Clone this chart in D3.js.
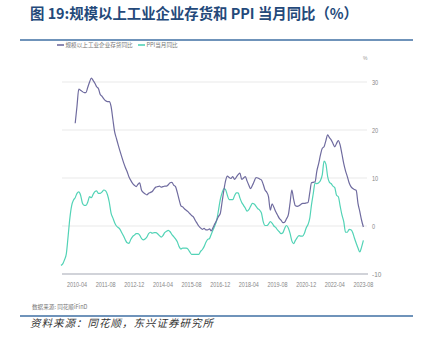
<!DOCTYPE html>
<html><head><meta charset="utf-8">
<script src="https://cdn.jsdelivr.net/npm/d3@7"></script>
<style>
html,body{margin:0;padding:0;background:#fff;}
svg{display:block;}
</style></head>
<body>
<script>
// ---- data ----
const ppiStart = "2009-07";
const ppiValues = [
 -8.2,-7.9,-7.0,-5.8,-2.1,1.7,
 4.3,5.4,5.9,6.8,7.1,6.4,4.8,4.3,4.3,5.0,6.1,5.9,
 6.6,7.2,7.3,6.8,6.8,7.1,7.5,7.3,6.5,5.0,2.7,1.7,
 0.7,0.0,-0.3,-0.7,-1.4,-2.1,-2.9,-3.5,-3.6,-2.8,-2.2,-1.9,
 -1.6,-1.6,-1.9,-2.6,-2.9,-2.7,-2.3,-1.6,-1.3,-1.5,-1.4,-1.4,
 -1.6,-2.0,-2.3,-2.0,-1.4,-1.1,-0.9,-1.2,-1.8,-2.2,-2.7,-3.3,
 -4.3,-4.8,-4.6,-4.6,-4.6,-4.8,-5.4,-5.9,-5.9,-5.9,-5.9,-5.9,
 -5.3,-4.9,-4.3,-3.4,-2.8,-2.6,-1.7,-0.8,0.1,1.2,3.3,5.5,
 6.9,7.8,7.6,6.4,5.5,5.5,5.5,6.3,6.9,6.9,5.8,4.9,
 4.3,3.7,3.1,3.4,4.1,4.7,4.6,4.1,3.6,3.3,2.7,0.9,
 0.1,0.1,0.4,0.9,0.6,0.0,-0.3,-0.8,-1.2,-1.6,-1.4,-0.5,
 0.1,-0.4,-1.5,-3.1,-3.7,-3.0,-2.4,-2.0,-2.1,-2.1,-1.5,-0.4,
 0.3,1.7,4.4,6.8,9.0,8.8,9.0,9.5,10.7,13.5,12.9,10.3,
 9.1,8.8,8.3,8.0,6.4,6.1,4.2,2.3,0.9,-1.3,-1.3,-0.7,
 -0.8,-1.4,-2.5,-3.6,-4.6,-5.4,-4.4,-3.0
];
const invStart = "2010-03";
const invValues = [
 21.4,25.0,28.5,28.3,28.0,27.8,27.8,28.9,30.0,30.8,
 30.3,29.7,29.0,28.6,27.4,27.0,26.5,26.1,25.9,25.9,24.9,22.3,
 19.6,18.2,16.9,15.6,14.4,13.2,12.2,11.3,10.2,9.5,8.9,8.5,
 8.2,8.7,9.0,7.5,7.0,6.7,6.5,6.8,7.0,7.2,7.7,8.1,
 8.2,8.3,8.1,8.2,8.3,8.3,8.6,9.0,9.1,8.5,8.2,7.0,
 5.5,4.2,4.0,3.6,3.3,3.0,2.6,2.2,1.9,1.2,0.6,0.0,
 -0.4,-0.7,-0.5,-0.8,-0.8,-0.6,-1.0,-0.3,0.5,1.2,2.0,2.6,
 5.0,7.5,9.4,10.4,10.1,9.9,10.3,9.7,10.2,10.7,11.0,9.7,
 10.0,10.3,9.4,8.5,7.8,8.5,9.3,10.1,10.0,9.8,9.6,8.7,
 7.5,7.0,6.1,3.3,4.6,3.9,3.0,2.3,1.6,1.2,0.7,0.8,
 1.5,2.3,4.7,7.5,5.6,4.2,4.1,4.2,4.5,4.7,4.7,4.8,
 4.9,7.0,9.0,9.1,9.2,11.5,13.0,14.8,16.2,16.5,17.8,19.0,
 18.4,17.9,17.2,16.5,17.2,17.8,16.9,15.0,13.0,11.5,10.3,9.0,
 8.2,7.8,7.6,7.4,4.7,3.0,1.2,-0.2
];
const seriesNames = ["规模以上工业企业存货同比","PPI当月同比"];
const xTickLabels = ["2010-04","2011-08","2012-12","2014-04","2015-08","2016-12","2018-04","2019-08","2020-12","2022-04","2023-08"];
const yTicks = [-10,0,10,20,30];
const titleText = "图 19:规模以上工业企业存货和 PPI 当月同比（%）";
const sourceNote = "数据来源: 同花顺iFinD";
const footerText = "资料来源：同花顺，东兴证券研究所";

// ---- helpers ----
const parse = d3.timeParse("%Y-%m");
function series(start, vals){
  const s = parse(start);
  return vals.map((v,i)=>({date:d3.timeMonth.offset(s,i), v}));
}
const ppi = series(ppiStart, ppiValues);
const inv = series(invStart, invValues);

const W=429,H=339;
const svg = d3.select("body").append("svg").attr("width",W).attr("height",H);
const CJK = "'Noto Sans CJK SC','Noto Sans',sans-serif";
const SANS = "'Liberation Sans','Noto Sans',sans-serif";

const x = d3.scaleTime().domain([parse("2009-07"), parse("2023-08")]).range([60.9, 363.4]);
const y = d3.scaleLinear().domain([-10,30]).range([274,82]);

// title
svg.append("text").attr("x",30).attr("y",19).text(titleText)
  .attr("font-family",CJK).attr("font-weight","bold").attr("font-size",14.5)
  .attr("textLength",328).attr("lengthAdjust","spacingAndGlyphs").attr("fill","#24497a");
// rules
svg.append("line").attr("x1",20).attr("x2",413).attr("y1",40).attr("y2",40).attr("stroke","#3f6fa3").attr("stroke-width",1.5);
svg.append("line").attr("x1",20).attr("x2",413).attr("y1",316).attr("y2",316).attr("stroke","#3f6fa3").attr("stroke-width",1.5);

// legend
const colors = ["#6f6b9f","#52d3b6"];
const legX = [57,138];
seriesNames.forEach((n,i)=>{
  svg.append("line").attr("x1",legX[i]).attr("x2",legX[i]+7).attr("y1",45).attr("y2",45).attr("stroke",colors[i]).attr("stroke-width",1.6);
  svg.append("text").attr("x",legX[i]+8.5).attr("y",47).text(n)
    .attr("font-family",CJK).attr("font-size",5.6).attr("fill","#777");
});

// grid
svg.append("g").selectAll("line").data(yTicks.filter(d=>d>-10)).join("line")
  .attr("x1",62).attr("x2",367).attr("y1",d=>y(d)).attr("y2",d=>y(d))
  .attr("stroke","#e9e9e9").attr("stroke-width",1);
svg.append("line").attr("x1",62).attr("x2",368).attr("y1",y(-10)).attr("y2",y(-10)).attr("stroke","#a3a7b3").attr("stroke-width",1);

// y axis labels (right)
svg.append("g").selectAll("text").data(yTicks).join("text")
  .attr("x",372).attr("y",d=>y(d)+2.5).text(d=>d)
  .attr("font-family",SANS).attr("font-size",7)
  .attr("textLength",d=>String(d).length*3.1).attr("lengthAdjust","spacingAndGlyphs")
  .attr("fill","#888");
svg.append("text").attr("x",363).attr("y",60).text("%")
  .attr("font-family",SANS).attr("font-size",5).attr("fill","#999");

// x labels
svg.append("g").selectAll("text").data(xTickLabels).join("text")
  .attr("x",d=>x(parse(d))-10).attr("y",287).text(d=>d)
  .attr("font-family",SANS).attr("font-size",7)
  .attr("textLength",20).attr("lengthAdjust","spacingAndGlyphs")
  .attr("fill","#888");

// lines
const line = d3.line().x(d=>x(d.date)).y(d=>y(d.v)).curve(d3.curveMonotoneX);
svg.append("path").datum(ppi).attr("d",line).attr("fill","none").attr("stroke",colors[1]).attr("stroke-width",1.2);
svg.append("path").datum(inv).attr("d",line).attr("fill","none").attr("stroke",colors[0]).attr("stroke-width",1.2);

// source notes
svg.append("text").attr("x",32).attr("y",309).text(sourceNote)
  .attr("font-family",CJK).attr("font-size",5.6).attr("fill","#777");
svg.append("text").attr("x",30).attr("y",327).text(footerText)
  .attr("font-family",CJK).attr("font-size",10.5).attr("font-style","italic").attr("letter-spacing",1).attr("fill","#333");
</script>
</body></html>
